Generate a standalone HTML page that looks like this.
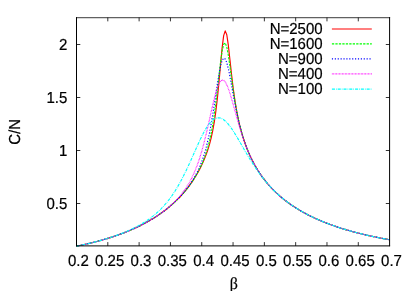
<!DOCTYPE html>
<html><head><meta charset="utf-8"><title>plot</title>
<style>
html,body{margin:0;padding:0;background:#fff;}
body{width:415px;height:291px;overflow:hidden;}
svg{display:block;will-change:transform;}
text{font-family:"Liberation Sans",sans-serif;font-size:15px;fill:#000;stroke:#000;stroke-width:0.2px;text-rendering:geometricPrecision;}
.b{font-family:"Liberation Serif",serif;font-size:16px;}
</style></head><body>
<svg width="415" height="291" viewBox="0 0 415 291">
<rect width="415" height="291" fill="#fff"/>
<polyline fill="none" stroke="#ff0000" stroke-width="1.15" stroke-linejoin="round" points="76.50,246.15 78.07,245.83 79.63,245.51 81.20,245.19 82.76,244.85 84.33,244.51 85.89,244.16 87.46,243.80 89.02,243.43 90.59,243.06 92.16,242.68 93.72,242.28 95.29,241.88 96.85,241.48 98.42,241.06 99.98,240.63 101.55,240.20 103.11,239.75 104.68,239.30 106.24,238.83 107.81,238.35 109.38,237.87 110.94,237.37 112.51,236.86 114.07,236.34 115.64,235.81 117.20,235.26 118.77,234.71 120.33,234.14 121.90,233.55 123.47,232.96 125.03,232.35 126.60,231.72 128.16,231.08 129.73,230.43 131.29,229.76 132.86,229.07 134.42,228.37 135.99,227.65 137.55,226.91 139.12,226.15 140.69,225.38 142.25,224.58 143.82,223.77 145.38,222.93 146.95,222.07 148.51,221.19 150.08,220.29 151.64,219.36 153.21,218.41 154.78,217.43 156.34,216.42 157.91,215.38 159.47,214.32 161.04,213.22 162.60,212.09 164.17,210.93 165.73,209.73 167.30,208.49 168.86,207.21 170.43,205.90 172.00,204.54 173.56,203.13 175.13,201.68 176.69,200.17 178.26,198.61 179.82,196.99 181.39,195.31 182.95,193.57 184.52,191.75 186.09,189.86 187.65,187.89 189.22,185.83 190.78,183.68 192.35,181.42 193.91,179.06 195.48,176.56 197.04,173.93 198.61,171.14 200.17,168.18 201.74,165.01 203.31,161.59 204.87,157.88 206.44,153.79 208.00,149.24 209.57,144.05 211.13,138.02 212.70,130.85 214.26,122.12 215.83,111.35 217.40,98.11 218.96,82.35 220.53,64.92 222.09,48.16 223.66,35.67 225.22,30.85 226.79,34.75 228.35,45.44 229.92,59.49 231.48,73.93 233.05,87.11 234.62,98.50 236.18,108.19 237.75,116.45 239.31,123.57 240.88,129.81 242.44,135.34 244.01,140.31 245.57,144.82 247.14,148.95 248.70,152.74 250.27,156.26 251.84,159.53 253.40,162.59 254.97,165.46 256.53,168.16 258.10,170.71 259.66,173.12 261.23,175.41 262.79,177.59 264.36,179.66 265.93,181.64 267.49,183.54 269.06,185.35 270.62,187.09 272.19,188.75 273.75,190.36 275.32,191.90 276.88,193.39 278.45,194.82 280.01,196.20 281.58,197.54 283.15,198.83 284.71,200.08 286.28,201.29 287.84,202.46 289.41,203.59 290.97,204.69 292.54,205.76 294.10,206.80 295.67,207.80 297.24,208.78 298.80,209.73 300.37,210.66 301.93,211.56 303.50,212.44 305.06,213.29 306.63,214.13 308.19,214.94 309.76,215.73 311.32,216.50 312.89,217.25 314.46,217.99 316.02,218.70 317.59,219.40 319.15,220.09 320.72,220.75 322.28,221.41 323.85,222.04 325.41,222.67 326.98,223.27 328.55,223.87 330.11,224.45 331.68,225.02 333.24,225.58 334.81,226.13 336.37,226.66 337.94,227.18 339.50,227.70 341.07,228.20 342.63,228.69 344.20,229.17 345.77,229.64 347.33,230.11 348.90,230.56 350.46,231.00 352.03,231.44 353.59,231.86 355.16,232.28 356.72,232.69 358.29,233.10 359.86,233.49 361.42,233.88 362.99,234.26 364.55,234.63 366.12,234.99 367.68,235.35 369.25,235.71 370.81,236.05 372.38,236.39 373.95,236.72 375.51,237.05 377.08,237.37 378.64,237.69 380.21,238.00 381.77,238.30 383.34,238.60 384.90,238.89 386.47,239.18 388.03,239.46 389.60,239.74"/>
<polyline fill="none" stroke="#00ff00" stroke-width="1.15" stroke-linejoin="round" stroke-dasharray="2.3 1.17" points="76.50,246.15 78.07,245.83 79.63,245.51 81.20,245.19 82.76,244.85 84.33,244.51 85.89,244.16 87.46,243.80 89.02,243.43 90.59,243.06 92.16,242.68 93.72,242.28 95.29,241.88 96.85,241.48 98.42,241.06 99.98,240.63 101.55,240.20 103.11,239.75 104.68,239.30 106.24,238.83 107.81,238.35 109.38,237.87 110.94,237.37 112.51,236.86 114.07,236.34 115.64,235.81 117.20,235.26 118.77,234.71 120.33,234.14 121.90,233.55 123.47,232.96 125.03,232.35 126.60,231.72 128.16,231.08 129.73,230.43 131.29,229.76 132.86,229.07 134.42,228.37 135.99,227.65 137.55,226.91 139.12,226.15 140.69,225.38 142.25,224.58 143.82,223.77 145.38,222.93 146.95,222.07 148.51,221.19 150.08,220.29 151.64,219.36 153.21,218.41 154.78,217.43 156.34,216.42 157.91,215.38 159.47,214.32 161.04,213.22 162.60,212.09 164.17,210.93 165.73,209.73 167.30,208.49 168.86,207.21 170.43,205.90 172.00,204.54 173.56,203.13 175.13,201.68 176.69,200.17 178.26,198.61 179.82,196.99 181.39,195.31 182.95,193.56 184.52,191.75 186.09,189.85 187.65,187.87 189.22,185.81 190.78,183.64 192.35,181.37 193.91,178.97 195.48,176.44 197.04,173.74 198.61,170.87 200.17,167.77 201.74,164.42 203.31,160.74 204.87,156.65 206.44,152.06 208.00,146.81 209.57,140.71 211.13,133.55 212.70,125.06 214.26,115.02 215.83,103.30 217.40,90.07 218.96,76.01 220.53,62.43 222.09,51.22 223.66,44.30 225.22,42.90 226.79,46.99 228.35,55.34 229.92,66.16 231.48,77.78 233.05,89.04 234.62,99.33 236.18,108.47 237.75,116.50 239.31,123.54 240.88,129.77 242.44,135.31 244.01,140.29 245.57,144.81 247.14,148.94 248.70,152.74 250.27,156.26 251.84,159.53 253.40,162.59 254.97,165.46 256.53,168.16 258.10,170.71 259.66,173.12 261.23,175.41 262.79,177.59 264.36,179.66 265.93,181.64 267.49,183.54 269.06,185.35 270.62,187.09 272.19,188.75 273.75,190.36 275.32,191.90 276.88,193.39 278.45,194.82 280.01,196.20 281.58,197.54 283.15,198.83 284.71,200.08 286.28,201.29 287.84,202.46 289.41,203.59 290.97,204.69 292.54,205.76 294.10,206.80 295.67,207.80 297.24,208.78 298.80,209.73 300.37,210.66 301.93,211.56 303.50,212.44 305.06,213.29 306.63,214.13 308.19,214.94 309.76,215.73 311.32,216.50 312.89,217.25 314.46,217.99 316.02,218.70 317.59,219.40 319.15,220.09 320.72,220.75 322.28,221.41 323.85,222.04 325.41,222.67 326.98,223.27 328.55,223.87 330.11,224.45 331.68,225.02 333.24,225.58 334.81,226.13 336.37,226.66 337.94,227.18 339.50,227.70 341.07,228.20 342.63,228.69 344.20,229.17 345.77,229.64 347.33,230.11 348.90,230.56 350.46,231.00 352.03,231.44 353.59,231.86 355.16,232.28 356.72,232.69 358.29,233.10 359.86,233.49 361.42,233.88 362.99,234.26 364.55,234.63 366.12,234.99 367.68,235.35 369.25,235.71 370.81,236.05 372.38,236.39 373.95,236.72 375.51,237.05 377.08,237.37 378.64,237.69 380.21,238.00 381.77,238.30 383.34,238.60 384.90,238.89 386.47,239.18 388.03,239.46 389.60,239.74"/>
<polyline fill="none" stroke="#0000ff" stroke-width="1.15" stroke-linejoin="round" stroke-dasharray="1.16 1.73" stroke-dashoffset="0.6" points="76.50,246.15 78.07,245.83 79.63,245.51 81.20,245.19 82.76,244.85 84.33,244.51 85.89,244.16 87.46,243.80 89.02,243.43 90.59,243.06 92.16,242.68 93.72,242.28 95.29,241.88 96.85,241.48 98.42,241.06 99.98,240.63 101.55,240.20 103.11,239.75 104.68,239.30 106.24,238.83 107.81,238.35 109.38,237.87 110.94,237.37 112.51,236.86 114.07,236.34 115.64,235.81 117.20,235.26 118.77,234.71 120.33,234.14 121.90,233.55 123.47,232.96 125.03,232.35 126.60,231.72 128.16,231.08 129.73,230.43 131.29,229.76 132.86,229.07 134.42,228.37 135.99,227.65 137.55,226.91 139.12,226.15 140.69,225.38 142.25,224.58 143.82,223.77 145.38,222.93 146.95,222.07 148.51,221.19 150.08,220.29 151.64,219.36 153.21,218.41 154.78,217.43 156.34,216.42 157.91,215.38 159.47,214.32 161.04,213.22 162.60,212.09 164.17,210.92 165.73,209.72 167.30,208.49 168.86,207.21 170.43,205.89 172.00,204.53 173.56,203.12 175.13,201.66 176.69,200.15 178.26,198.58 179.82,196.95 181.39,195.25 182.95,193.48 184.52,191.64 186.09,189.70 187.65,187.67 189.22,185.53 190.78,183.27 192.35,180.87 193.91,178.30 195.48,175.54 197.04,172.55 198.61,169.28 200.17,165.69 201.74,161.70 203.31,157.24 204.87,152.20 206.44,146.47 208.00,139.96 209.57,132.55 211.13,124.19 212.70,114.88 214.26,104.79 215.83,94.22 217.40,83.74 218.96,74.08 220.53,66.10 222.09,60.61 223.66,58.18 225.22,58.96 226.79,62.70 228.35,68.77 229.92,76.43 231.48,84.90 233.05,93.56 234.62,101.98 236.18,109.90 237.75,117.19 239.31,123.83 240.88,129.84 242.44,135.29 244.01,140.24 245.57,144.76 247.14,148.89 248.70,152.70 250.27,156.23 251.84,159.51 253.40,162.58 254.97,165.45 256.53,168.15 258.10,170.70 259.66,173.12 261.23,175.41 262.79,177.59 264.36,179.66 265.93,181.64 267.49,183.54 269.06,185.35 270.62,187.09 272.19,188.75 273.75,190.36 275.32,191.90 276.88,193.39 278.45,194.82 280.01,196.20 281.58,197.54 283.15,198.83 284.71,200.08 286.28,201.29 287.84,202.46 289.41,203.59 290.97,204.69 292.54,205.76 294.10,206.80 295.67,207.80 297.24,208.78 298.80,209.73 300.37,210.66 301.93,211.56 303.50,212.44 305.06,213.29 306.63,214.13 308.19,214.94 309.76,215.73 311.32,216.50 312.89,217.25 314.46,217.99 316.02,218.70 317.59,219.40 319.15,220.09 320.72,220.75 322.28,221.41 323.85,222.04 325.41,222.67 326.98,223.27 328.55,223.87 330.11,224.45 331.68,225.02 333.24,225.58 334.81,226.13 336.37,226.66 337.94,227.18 339.50,227.70 341.07,228.20 342.63,228.69 344.20,229.17 345.77,229.64 347.33,230.11 348.90,230.56 350.46,231.00 352.03,231.44 353.59,231.86 355.16,232.28 356.72,232.69 358.29,233.10 359.86,233.49 361.42,233.88 362.99,234.26 364.55,234.63 366.12,234.99 367.68,235.35 369.25,235.71 370.81,236.05 372.38,236.39 373.95,236.72 375.51,237.05 377.08,237.37 378.64,237.69 380.21,238.00 381.77,238.30 383.34,238.60 384.90,238.89 386.47,239.18 388.03,239.46 389.60,239.74"/>
<polyline fill="none" stroke="#ff00ff" stroke-width="1.15" stroke-linejoin="round" stroke-dasharray="0.72 0.73" points="76.50,246.15 78.07,245.83 79.63,245.51 81.20,245.19 82.76,244.85 84.33,244.51 85.89,244.16 87.46,243.80 89.02,243.43 90.59,243.06 92.16,242.68 93.72,242.28 95.29,241.88 96.85,241.48 98.42,241.06 99.98,240.63 101.55,240.20 103.11,239.75 104.68,239.30 106.24,238.83 107.81,238.35 109.38,237.87 110.94,237.37 112.51,236.86 114.07,236.34 115.64,235.81 117.20,235.26 118.77,234.71 120.33,234.14 121.90,233.55 123.47,232.96 125.03,232.35 126.60,231.72 128.16,231.08 129.73,230.43 131.29,229.76 132.86,229.07 134.42,228.37 135.99,227.65 137.55,226.91 139.12,226.15 140.69,225.38 142.25,224.58 143.82,223.76 145.38,222.93 146.95,222.07 148.51,221.18 150.08,220.28 151.64,219.34 153.21,218.39 154.78,217.40 156.34,216.39 157.91,215.34 159.47,214.27 161.04,213.16 162.60,212.01 164.17,210.83 165.73,209.60 167.30,208.33 168.86,207.02 170.43,205.65 172.00,204.23 173.56,202.75 175.13,201.20 176.69,199.58 178.26,197.88 179.82,196.09 181.39,194.19 182.95,192.18 184.52,190.05 186.09,187.76 187.65,185.31 189.22,182.67 190.78,179.82 192.35,176.73 193.91,173.36 195.48,169.68 197.04,165.66 198.61,161.26 200.17,156.46 201.74,151.23 203.31,145.56 204.87,139.45 206.44,132.95 208.00,126.13 209.57,119.09 211.13,112.00 212.70,105.05 214.26,98.48 215.83,92.56 217.40,87.54 218.96,83.65 220.53,81.08 222.09,79.94 223.66,80.22 225.22,81.88 226.79,84.74 228.35,88.62 229.92,93.29 231.48,98.50 233.05,104.04 234.62,109.73 236.18,115.40 237.75,120.96 239.31,126.31 240.88,131.41 242.44,136.23 244.01,140.77 245.57,145.02 247.14,148.99 248.70,152.71 250.27,156.19 251.84,159.45 253.40,162.51 254.97,165.38 256.53,168.09 258.10,170.65 259.66,173.08 261.23,175.38 262.79,177.56 264.36,179.64 265.93,181.63 267.49,183.52 269.06,185.34 270.62,187.08 272.19,188.75 273.75,190.35 275.32,191.90 276.88,193.38 278.45,194.82 280.01,196.20 281.58,197.54 283.15,198.83 284.71,200.08 286.28,201.29 287.84,202.46 289.41,203.59 290.97,204.69 292.54,205.76 294.10,206.80 295.67,207.80 297.24,208.78 298.80,209.73 300.37,210.66 301.93,211.56 303.50,212.44 305.06,213.29 306.63,214.13 308.19,214.94 309.76,215.73 311.32,216.50 312.89,217.25 314.46,217.99 316.02,218.70 317.59,219.40 319.15,220.09 320.72,220.75 322.28,221.41 323.85,222.04 325.41,222.67 326.98,223.27 328.55,223.87 330.11,224.45 331.68,225.02 333.24,225.58 334.81,226.13 336.37,226.66 337.94,227.18 339.50,227.70 341.07,228.20 342.63,228.69 344.20,229.17 345.77,229.64 347.33,230.11 348.90,230.56 350.46,231.00 352.03,231.44 353.59,231.86 355.16,232.28 356.72,232.69 358.29,233.10 359.86,233.49 361.42,233.88 362.99,234.26 364.55,234.63 366.12,234.99 367.68,235.35 369.25,235.71 370.81,236.05 372.38,236.39 373.95,236.72 375.51,237.05 377.08,237.37 378.64,237.69 380.21,238.00 381.77,238.30 383.34,238.60 384.90,238.89 386.47,239.18 388.03,239.46 389.60,239.74"/>
<polyline fill="none" stroke="#00ffff" stroke-width="1.15" stroke-linejoin="round" stroke-dasharray="3.05 1.0 0.74 1.0" points="76.50,246.15 78.07,245.83 79.63,245.51 81.20,245.18 82.76,244.84 84.33,244.50 85.89,244.15 87.46,243.79 89.02,243.42 90.59,243.05 92.16,242.66 93.72,242.27 95.29,241.87 96.85,241.46 98.42,241.03 99.98,240.60 101.55,240.16 103.11,239.71 104.68,239.25 106.24,238.78 107.81,238.29 109.38,237.80 110.94,237.29 112.51,236.77 114.07,236.24 115.64,235.69 117.20,235.13 118.77,234.55 120.33,233.96 121.90,233.35 123.47,232.72 125.03,232.08 126.60,231.42 128.16,230.73 129.73,230.03 131.29,229.31 132.86,228.56 134.42,227.78 135.99,226.99 137.55,226.16 139.12,225.30 140.69,224.42 142.25,223.50 143.82,222.54 145.38,221.55 146.95,220.52 148.51,219.44 150.08,218.32 151.64,217.14 153.21,215.92 154.78,214.64 156.34,213.30 157.91,211.89 159.47,210.42 161.04,208.87 162.60,207.24 164.17,205.53 165.73,203.74 167.30,201.85 168.86,199.86 170.43,197.77 172.00,195.57 173.56,193.27 175.13,190.85 176.69,188.31 178.26,185.65 179.82,182.88 181.39,179.98 182.95,176.98 184.52,173.86 186.09,170.64 187.65,167.32 189.22,163.93 190.78,160.47 192.35,156.96 193.91,153.43 195.48,149.90 197.04,146.40 198.61,142.95 200.17,139.60 201.74,136.38 203.31,133.31 204.87,130.44 206.44,127.79 208.00,125.40 209.57,123.31 211.13,121.52 212.70,120.06 214.26,118.95 215.83,118.20 217.40,117.81 218.96,117.77 220.53,118.08 222.09,118.72 223.66,119.69 225.22,120.95 226.79,122.47 228.35,124.25 229.92,126.23 231.48,128.40 233.05,130.73 234.62,133.18 236.18,135.74 237.75,138.36 239.31,141.04 240.88,143.75 242.44,146.47 244.01,149.18 245.57,151.87 247.14,154.53 248.70,157.15 250.27,159.71 251.84,162.22 253.40,164.66 254.97,167.04 256.53,169.35 258.10,171.59 259.66,173.76 261.23,175.86 262.79,177.88 264.36,179.84 265.93,181.74 267.49,183.56 269.06,185.33 270.62,187.03 272.19,188.68 273.75,190.26 275.32,191.80 276.88,193.28 278.45,194.71 280.01,196.09 281.58,197.43 283.15,198.73 284.71,199.98 286.28,201.20 287.84,202.38 289.41,203.52 290.97,204.62 292.54,205.70 294.10,206.74 295.67,207.75 297.24,208.74 298.80,209.69 300.37,210.62 301.93,211.53 303.50,212.41 305.06,213.27 306.63,214.10 308.19,214.92 309.76,215.71 311.32,216.48 312.89,217.24 314.46,217.97 316.02,218.69 317.59,219.39 319.15,220.08 320.72,220.75 322.28,221.40 323.85,222.04 325.41,222.66 326.98,223.27 328.55,223.87 330.11,224.45 331.68,225.02 333.24,225.58 334.81,226.12 336.37,226.66 337.94,227.18 339.50,227.70 341.07,228.20 342.63,228.69 344.20,229.17 345.77,229.64 347.33,230.10 348.90,230.56 350.46,231.00 352.03,231.44 353.59,231.86 355.16,232.28 356.72,232.69 358.29,233.09 359.86,233.49 361.42,233.88 362.99,234.26 364.55,234.63 366.12,234.99 367.68,235.35 369.25,235.71 370.81,236.05 372.38,236.39 373.95,236.72 375.51,237.05 377.08,237.37 378.64,237.69 380.21,238.00 381.77,238.30 383.34,238.60 384.90,238.89 386.47,239.18 388.03,239.46 389.60,239.74"/>
<line x1="331.9" y1="29.0" x2="371.8" y2="29.0" stroke="#ff0000" stroke-width="1.15"/>
<text transform="translate(322.6 34.1) scale(1 1.06)" text-anchor="end">N=2500</text>
<line x1="331.9" y1="43.9" x2="371.8" y2="43.9" stroke="#00ff00" stroke-width="1.15" stroke-dasharray="2.3 1.17"/>
<text transform="translate(322.6 49.0) scale(1 1.06)" text-anchor="end">N=1600</text>
<line x1="331.9" y1="58.9" x2="371.8" y2="58.9" stroke="#0000ff" stroke-width="1.15" stroke-dasharray="1.16 1.73"/>
<text transform="translate(322.6 64.0) scale(1 1.06)" text-anchor="end">N=900</text>
<line x1="331.9" y1="73.9" x2="371.8" y2="73.9" stroke="#ff00ff" stroke-width="1.15" stroke-dasharray="0.72 0.73"/>
<text transform="translate(322.6 79.0) scale(1 1.06)" text-anchor="end">N=400</text>
<line x1="331.9" y1="89.1" x2="371.8" y2="89.1" stroke="#00ffff" stroke-width="1.15" stroke-dasharray="3.05 1.0 0.74 1.0"/>
<text transform="translate(322.6 94.2) scale(1 1.06)" text-anchor="end">N=100</text>
<g stroke="#000" stroke-width="0.8" fill="none">
<path stroke-width="1" d="M76.5 17.150000000000002V246.20000000000002M389.6 17.150000000000002V246.20000000000002"/>
<path stroke-width="1.1" stroke-opacity="0.62" d="M76.0 17.650000000000002H390.1"/>
<path stroke-width="1" d="M76.0 245.9H390.1"/>
<path d="M107.81 245.9v-3.8M107.81 17.55v3.8"/>
<path d="M139.12 245.9v-3.8M139.12 17.55v3.8"/>
<path d="M170.43 245.9v-3.8M170.43 17.55v3.8"/>
<path d="M201.74 245.9v-3.8M201.74 17.55v3.8"/>
<path d="M233.05 245.9v-3.8M233.05 17.55v3.8"/>
<path d="M264.36 245.9v-3.8M264.36 17.55v3.8"/>
<path d="M295.67 245.9v-3.8M295.67 17.55v3.8"/>
<path d="M326.98 245.9v-3.8M326.98 17.55v3.8"/>
<path d="M358.29 245.9v-3.8M358.29 17.55v3.8"/>
<path d="M76.5 203.50h3.8M389.6 203.50h-3.8"/>
<path d="M76.5 150.50h3.8M389.6 150.50h-3.8"/>
<path d="M76.5 97.50h3.8M389.6 97.50h-3.8"/>
<path d="M76.5 44.50h3.8M389.6 44.50h-3.8"/>
</g>
<text transform="translate(78.4 266.0) scale(1 1.06)" text-anchor="middle">0.2</text>
<text transform="translate(109.7 266.0) scale(1 1.06)" text-anchor="middle">0.25</text>
<text transform="translate(141.0 266.0) scale(1 1.06)" text-anchor="middle">0.3</text>
<text transform="translate(172.3 266.0) scale(1 1.06)" text-anchor="middle">0.35</text>
<text transform="translate(203.6 266.0) scale(1 1.06)" text-anchor="middle">0.4</text>
<text transform="translate(235.0 266.0) scale(1 1.06)" text-anchor="middle">0.45</text>
<text transform="translate(266.3 266.0) scale(1 1.06)" text-anchor="middle">0.5</text>
<text transform="translate(297.6 266.0) scale(1 1.06)" text-anchor="middle">0.55</text>
<text transform="translate(328.9 266.0) scale(1 1.06)" text-anchor="middle">0.6</text>
<text transform="translate(360.2 266.0) scale(1 1.06)" text-anchor="middle">0.65</text>
<text transform="translate(391.5 266.0) scale(1 1.06)" text-anchor="middle">0.7</text>
<text transform="translate(67.3 209.0) scale(1 1.06)" text-anchor="end">0.5</text>
<text transform="translate(67.3 156.0) scale(1 1.06)" text-anchor="end">1</text>
<text transform="translate(67.3 103.0) scale(1 1.06)" text-anchor="end">1.5</text>
<text transform="translate(67.3 50.0) scale(1 1.06)" text-anchor="end">2</text>
<text transform="translate(20.3 131.8) rotate(-90) scale(1 1.06)" text-anchor="middle">C/N</text>
<text class="b" transform="translate(233.7 289.1) scale(1 1.05)" text-anchor="middle">β</text>
</svg>
</body></html>
